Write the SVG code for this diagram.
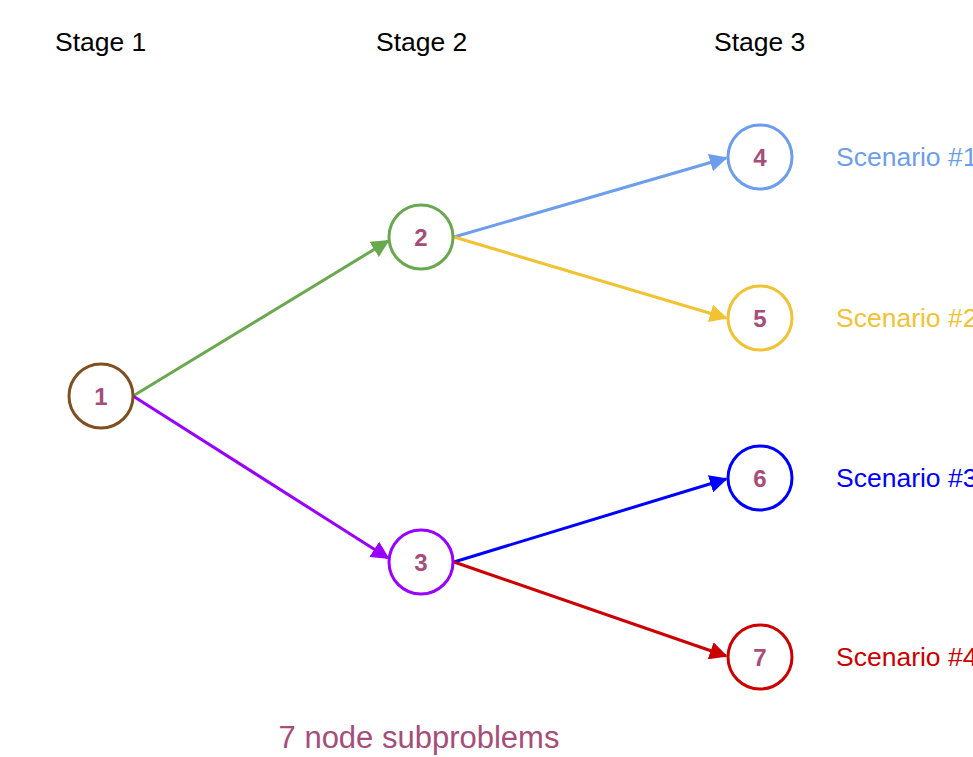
<svg xmlns="http://www.w3.org/2000/svg" width="973" height="757" viewBox="0 0 973 757">
  <style>
    .stage { font-family: "Liberation Sans", Arial, sans-serif; font-size: 26.5px; fill: #000; }
    .num { font-family: "Liberation Sans", Arial, sans-serif; font-size: 24px; font-weight: bold; fill: #a64d79; text-anchor: middle; dominant-baseline: central; }
    .scen { font-family: "Liberation Sans", Arial, sans-serif; font-size: 26.5px; }
    .node circle { fill: #fff; stroke-width: 3; }
    .edge { fill: none; stroke-width: 3; }
    .note { font-family: "Liberation Sans", Arial, sans-serif; font-size: 31px; fill: #a64d79; text-anchor: middle; }
  </style>
  <defs>
    <marker id="ah-green" viewBox="0 0 10 10" refX="9" refY="5" markerWidth="6" markerHeight="6" orient="auto" markerUnits="strokeWidth"><path d="M0,0 L10,5 L0,10 Z" fill="#6aa84f"/></marker>
    <marker id="ah-purple" viewBox="0 0 10 10" refX="9" refY="5" markerWidth="6" markerHeight="6" orient="auto" markerUnits="strokeWidth"><path d="M0,0 L10,5 L0,10 Z" fill="#9900ff"/></marker>
    <marker id="ah-lblue" viewBox="0 0 10 10" refX="9" refY="5" markerWidth="6" markerHeight="6" orient="auto" markerUnits="strokeWidth"><path d="M0,0 L10,5 L0,10 Z" fill="#6d9eeb"/></marker>
    <marker id="ah-yellow" viewBox="0 0 10 10" refX="9" refY="5" markerWidth="6" markerHeight="6" orient="auto" markerUnits="strokeWidth"><path d="M0,0 L10,5 L0,10 Z" fill="#f1c232"/></marker>
    <marker id="ah-blue" viewBox="0 0 10 10" refX="9" refY="5" markerWidth="6" markerHeight="6" orient="auto" markerUnits="strokeWidth"><path d="M0,0 L10,5 L0,10 Z" fill="#0000ff"/></marker>
    <marker id="ah-red" viewBox="0 0 10 10" refX="9" refY="5" markerWidth="6" markerHeight="6" orient="auto" markerUnits="strokeWidth"><path d="M0,0 L10,5 L0,10 Z" fill="#cc0000"/></marker>
  </defs>
  <rect width="973" height="757" fill="#fff"/>

  <!-- stage headings -->
  <text class="stage" x="55" y="51">Stage 1</text>
  <text class="stage" x="376" y="51">Stage 2</text>
  <text class="stage" x="714" y="51">Stage 3</text>

  <!-- connectors -->
  <g id="connectors">
    <line class="edge" x1="133" y1="396" x2="388" y2="241" stroke="#6aa84f" marker-end="url(#ah-green)"/>
    <line class="edge" x1="133" y1="396" x2="388" y2="558" stroke="#9900ff" marker-end="url(#ah-purple)"/>
    <line class="edge" x1="454" y1="237" x2="726" y2="158" stroke="#6d9eeb" marker-end="url(#ah-lblue)"/>
    <line class="edge" x1="454" y1="237" x2="726" y2="318" stroke="#f1c232" marker-end="url(#ah-yellow)"/>
    <line class="edge" x1="454" y1="562" x2="726" y2="479" stroke="#0000ff" marker-end="url(#ah-blue)"/>
    <line class="edge" x1="454" y1="562" x2="726" y2="656" stroke="#cc0000" marker-end="url(#ah-red)"/>
  </g>

  <!-- nodes -->
  <g id="node1" class="node"><circle cx="101" cy="396" r="32" stroke="#7f4f1f"/><text class="num" x="101" y="396">1</text></g>
  <g id="node2" class="node"><circle cx="421" cy="237" r="32" stroke="#6aa84f"/><text class="num" x="421" y="237">2</text></g>
  <g id="node3" class="node"><circle cx="421" cy="562" r="32" stroke="#9900ff"/><text class="num" x="421" y="562">3</text></g>
  <g id="node4" class="node"><circle cx="760" cy="157" r="32" stroke="#6d9eeb"/><text class="num" x="760" y="157">4</text></g>
  <g id="node5" class="node"><circle cx="760" cy="318" r="32" stroke="#f1c232"/><text class="num" x="760" y="318">5</text></g>
  <g id="node6" class="node"><circle cx="760" cy="478" r="32" stroke="#0000ff"/><text class="num" x="760" y="478">6</text></g>
  <g id="node7" class="node"><circle cx="760" cy="657" r="32" stroke="#cc0000"/><text class="num" x="760" y="657">7</text></g>

  <!-- scenario labels, running past the right edge -->
  <text class="scen" x="836" y="166" fill="#6d9eeb">Scenario #1</text>
  <text class="scen" x="836" y="327" fill="#f1c232">Scenario #2</text>
  <text class="scen" x="836" y="487" fill="#0000ff">Scenario #3</text>
  <text class="scen" x="836" y="666" fill="#cc0000">Scenario #4</text>

  <text class="note" x="419" y="748">7 node subproblems</text>
</svg>
